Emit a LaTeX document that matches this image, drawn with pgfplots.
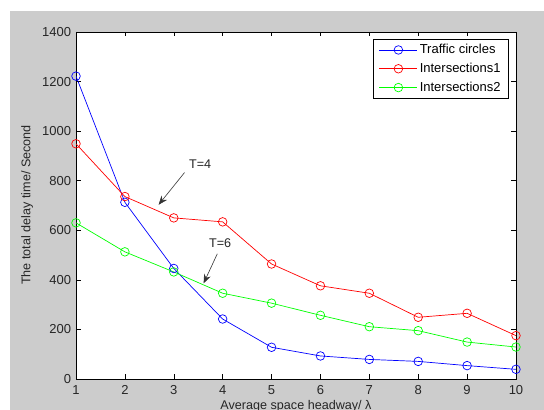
\documentclass[border=0pt]{standalone}
\usepackage{fontspec}
\setmainfont{Liberation Sans}
\usepackage{pgfplots}
\pgfplotsset{compat=1.18}
\usetikzlibrary{arrows.meta}
\definecolor{figgray}{RGB}{204,204,204}
\begin{document}
\fontsize{12.6pt}{14pt}\selectfont
\begin{tikzpicture}
\useasboundingbox (0,0) rectangle (544pt,410pt);
\clip (0,0) rectangle (544pt,410pt);
\fill[white] (0,0) rectangle (544pt,410pt);
\fill[figgray] (10pt,0) rectangle (544pt,399pt);
\begin{axis}[
  at={(76pt,31pt)}, anchor=south west,
  width=440pt, height=347pt, scale only axis,
  xmin=1, xmax=10, ymin=0, ymax=1400,
  xtick={1,...,10}, ytick={0,200,...,1400},
  axis background/.style={fill=white},
  axis line style={black, line width=0.6pt},
  tick style={black, line width=0.5pt},
  major tick length=4.5pt,
  tick align=inside,
  xtick pos=both, ytick pos=both,
  /pgf/number format/assume math mode=true,
  /pgf/number format/1000 sep={},
  tick label style={font=\fontsize{13pt}{14pt}\selectfont, text=black!85},
  xticklabel style={yshift=-2pt},
  yticklabel style={xshift=-0.5pt},
  legend style={at={(1,1)}, anchor=north east, xshift=-7pt, yshift=-7pt,
    draw=black, line width=0.6pt, font=\fontsize{13pt}{14pt}\selectfont,
    inner xsep=6pt, inner ysep=3pt, row sep=3.5pt,
    cells={anchor=west}},
  legend image code/.code={\draw[mark repeat=2,mark phase=2] plot coordinates {(0pt,0pt) (19pt,0pt) (38pt,0pt)};},
  every axis plot/.append style={line width=0.7pt, mark=o, mark size=4.3pt},
]
\addplot[blue] coordinates {(1,1222) (2,713) (3,446) (4,242) (5,128) (6,93) (7,79) (8,71) (9,54) (10,39)};
\addlegendentry{Traffic circles}
\addplot[red] coordinates {(1,949) (2,736) (3,650) (4,634) (5,464) (6,376) (7,346) (8,249) (9,265) (10,175)};
\addlegendentry{Intersections1}
\addplot[green] coordinates {(1,630) (2,513) (3,432) (4,346) (5,306) (6,257) (7,211) (8,195) (9,149) (10,129)};
\addlegendentry{Intersections2}
\draw[black!80, line width=0.6pt, -{Stealth[length=9pt,width=7pt]}] (axis cs:3.22,833) -- (axis cs:2.69,703);
\draw[black!80, line width=0.6pt, -{Stealth[length=9pt,width=7pt]}] (axis cs:3.89,505) -- (axis cs:3.61,386);
\node[text=black!85] at (axis cs:3.54,866) {T=4};
\node[text=black!85] at (axis cs:3.95,550) {T=6};
\end{axis}
\node[rotate=90, text=black!85] at (27pt,205pt) {The total delay time/ Second};
\node[anchor=base, text=black!85] at (296pt,0pt) {Average space headway/ λ};
\end{tikzpicture}
\end{document}
